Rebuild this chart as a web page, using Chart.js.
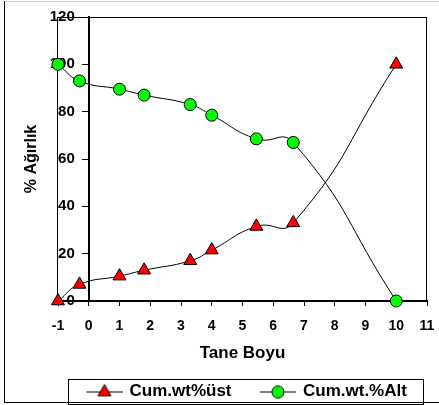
<!DOCTYPE html>
<html>
<head>
<meta charset="utf-8">
<script src="https://cdn.jsdelivr.net/npm/chart.js@4/dist/chart.umd.min.js"></script>
<style>
  html, body { margin: 0; padding: 0; background: #fff; }
</style>
</head>
<body>
<canvas id="chart" width="439" height="405"></canvas>
<script>
// values
const taneBoyu = [-1, -0.3, 1, 1.8, 3.3, 4, 5.45, 6.65, 10];
const cumUst = [0, 7, 10.5, 13, 17, 21.5, 31.5, 33, 100];
const cumAlt = [100, 93, 89.5, 87, 83, 78.5, 68.5, 67, 0];
const seriesNames = ['Cum.wt%üst', 'Cum.wt.%Alt'];
const xTicks = [-1, 0, 1, 2, 3, 4, 5, 6, 7, 8, 9, 10, 11];
const yTicks = [0, 20, 40, 60, 80, 100, 120];
const xTitle = 'Tane Boyu';
const yTitle = '% Ağırlık';

const FONT = "'Liberation Sans', Arial, sans-serif";
const SAMPLE_GAP = 25; // blank space left of each legend symbol

// legend symbol: a short line with the marker on it
function legendSample(style, fill, radius) {
  const c = document.createElement('canvas');
  c.width = SAMPLE_GAP + 36;
  c.height = 16;
  const g = c.getContext('2d');
  g.strokeStyle = '#000';
  g.lineWidth = 1;
  g.beginPath();
  g.moveTo(SAMPLE_GAP, 8.5);
  g.lineTo(SAMPLE_GAP + 36, 8.5);
  g.stroke();
  g.fillStyle = fill;
  Chart.helpers.drawPoint(g, { pointStyle: style, radius: radius, borderWidth: 1, rotation: 0 }, SAMPLE_GAP + 18, 8.5);
  return c;
}

const toPoints = (xs, ys) => xs.map((x, i) => ({ x: x, y: ys[i] }));

const framePlugin = {
  id: 'frames',
  beforeDraw(chart) {
    // y labels sit left of the tick marks, not on the axis line
    const items = chart.scales.y.getLabelItems();
    if (!items._shifted) {
      items.forEach(it => { it.options.translation[0] -= 14; });
      items._shifted = true;
    }
  },
  beforeDatasetsDraw(chart) {
    const { ctx, chartArea: a } = chart;
    ctx.save();
    ctx.strokeStyle = '#000';
    ctx.lineWidth = 1;
    ctx.strokeRect(Math.round(a.left) - 0.5, Math.round(a.top) + 0.5,
      Math.round(a.right - a.left), Math.round(a.bottom - a.top));
    ctx.restore();
  },
  afterDraw(chart) {
    const ctx = chart.ctx;
    ctx.save();
    // outer chart border
    ctx.lineWidth = 1;
    ctx.strokeStyle = '#d0d0d0';
    ctx.beginPath();
    ctx.moveTo(4, 1.5);
    ctx.lineTo(chart.width, 1.5);
    ctx.stroke();
    ctx.strokeStyle = '#000';
    ctx.beginPath();
    ctx.moveTo(4.5, 1);
    ctx.lineTo(4.5, 402.5);
    ctx.lineTo(chart.width, 402.5);
    ctx.stroke();
    // legend box
    const hb = chart.legend.legendHitBoxes;
    if (hb && hb.length) {
      const l = Math.min(...hb.map(h => h.left)) + SAMPLE_GAP - 1.5 - 19;
      const r = Math.max(...hb.map(h => h.left + h.width)) + 16;
      const cy = hb[0].top + hb[0].height / 2;
      ctx.strokeRect(Math.round(l) + 0.5, Math.round(cy - 12.5) + 0.5, Math.round(r - l), 25);
    }
    ctx.restore();
  }
};

new Chart(document.getElementById('chart'), {
  type: 'line',
  data: {
    datasets: [
      {
        label: seriesNames[0],
        data: toPoints(taneBoyu, cumUst),
        borderColor: '#000',
        borderWidth: 1,
        tension: 0.5,
        pointStyle: 'triangle',
        pointRadius: 7.5,
        pointBackgroundColor: '#ff0000',
        pointBorderColor: '#000',
        pointBorderWidth: 1,
        clip: false
      },
      {
        label: seriesNames[1],
        data: toPoints(taneBoyu, cumAlt),
        borderColor: '#000',
        borderWidth: 1,
        tension: 0.5,
        pointStyle: 'circle',
        pointRadius: 6,
        pointBackgroundColor: '#00ff00',
        pointBorderColor: '#000',
        pointBorderWidth: 1,
        clip: false
      }
    ]
  },
  options: {
    responsive: false,
    animation: false,
    layout: { padding: { top: 13, right: 12, left: 0, bottom: -5 } },
    plugins: {
      tooltip: { enabled: false },
      legend: {
        position: 'bottom',
        align: 'start',
        fullSize: false,
        labels: {
          usePointStyle: true,
          pointStyleWidth: SAMPLE_GAP + 33,
          padding: 5,
          color: '#000',
          font: { family: FONT, size: 17, weight: 'bold' },
          generateLabels: (chart) => chart.data.datasets.map((ds, i) => ({
            text: ds.label,
            datasetIndex: i,
            hidden: false,
            lineWidth: 0,
            fontColor: '#000',
            pointStyle: i === 0 ? legendSample('triangle', '#ff0000', 7.5) : legendSample('circle', '#00ff00', 6)
          }))
        }
      }
    },
    scales: {
      x: {
        type: 'linear',
        position: 'bottom',
        min: xTicks[0],
        max: xTicks[xTicks.length - 1],
        afterBuildTicks: (s) => { s.ticks = xTicks.map(v => ({ value: v })); },
        afterFit: (s) => { s.height = 77; s.paddingLeft = 0; s.paddingRight = 0; },
        grid: { display: true, drawOnChartArea: false, drawTicks: true, tickLength: 5, color: '#000' },
        border: { display: true, color: '#000', width: 2 },
        ticks: { color: '#000', padding: 12, font: { family: FONT, size: 14, weight: 'bold' } },
        title: { display: true, text: xTitle, color: '#000', padding: { top: 6, bottom: 14 },
          font: { family: FONT, size: 17, weight: 'bold' } }
      },
      yTitleAxis: {
        type: 'linear',
        axis: 'y',
        position: 'left',
        min: 0,
        max: 120,
        ticks: { display: false },
        grid: { display: false },
        border: { display: false },
        title: { display: true, text: yTitle, color: '#000', padding: { top: 22, bottom: 0 },
          font: { family: FONT, size: 16, weight: 'bold' } },
        afterFit: (s) => { s.width = 58; }
      },
      y: {
        type: 'linear',
        position: { x: 0 },
        min: yTicks[0],
        max: yTicks[yTicks.length - 1],
        afterBuildTicks: (s) => { s.ticks = yTicks.map(v => ({ value: v })); },
        afterFit: (s) => { s.width = 0; },
        grid: { display: true, drawOnChartArea: false, drawTicks: true, tickLength: 6, color: '#000' },
        border: { display: true, color: '#000', width: 2 },
        ticks: { color: '#000', padding: 8, font: { family: FONT, size: 15, weight: 'bold' } }
      }
    }
  },
  plugins: [framePlugin]
});
</script>
</body>
</html>
